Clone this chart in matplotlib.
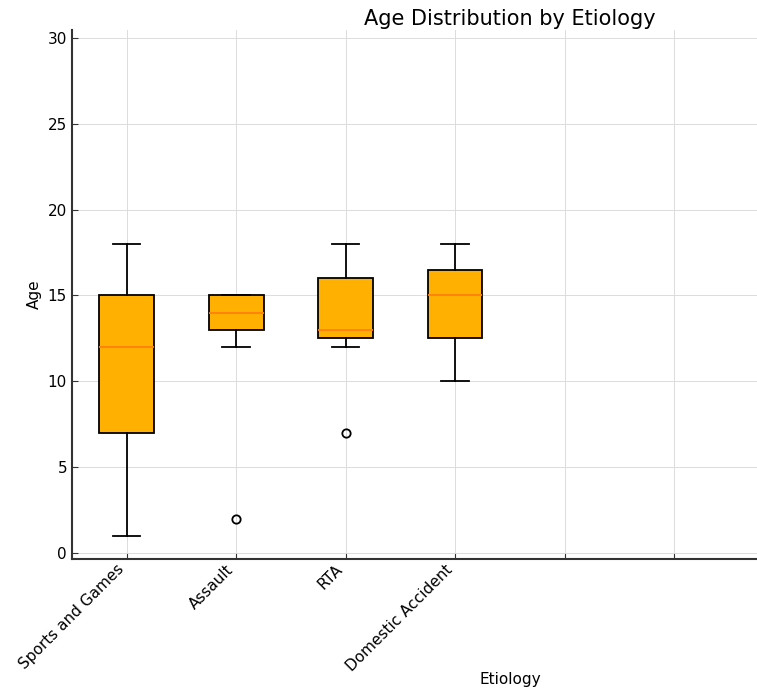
import matplotlib
matplotlib.use('Agg')
import matplotlib.pyplot as plt

categories = ['Sports and Games', 'Assault', 'RTA', 'Domestic Accident']
whislo = [1, 12, 12, 10]
q1     = [7, 13, 12.5, 12.5]
med    = [12, 14, 13, 15]
q3     = [15, 15, 16, 16.5]
whishi = [18, 15, 18, 18]
fliers = [[], [2], [7], []]

# original figure was wider and got cropped on the right
n_slots = 8

stats = [dict(label=c, whislo=lo, q1=a, med=m, q3=b, whishi=hi, fliers=f)
         for c, lo, a, m, b, hi, f in zip(categories, whislo, q1, med, q3, whishi, fliers)]

fig = plt.figure(figsize=(7.57, 6.93), dpi=100)
ax = fig.add_axes([0.095, 0.1934, 1.157, 0.763])

ax.bxp(stats, positions=range(1, len(stats) + 1), widths=0.5, patch_artist=True,
       boxprops=dict(facecolor='#FFB000', edgecolor='black', linewidth=1.3),
       medianprops=dict(color='#FF7F0E', linewidth=1.3),
       whiskerprops=dict(color='black', linewidth=1.3),
       capprops=dict(color='black', linewidth=1.3),
       flierprops=dict(marker='o', markerfacecolor='none', markeredgecolor='black',
                       markersize=6, markeredgewidth=1.3))

ticks = list(range(1, n_slots + 1))
ax.set_xticks(ticks)
ax.set_xticklabels(categories + [''] * (n_slots - len(categories)), rotation=45, ha='right', fontsize=11)
ax.set_xlim(0.5, n_slots + 0.5)
ax.set_ylim(-0.35, 30.45)
ax.set_yticks([0, 5, 10, 15, 20, 25, 30])
ax.tick_params(axis='y', labelsize=11)
ax.tick_params(axis='x', pad=2)
ax.tick_params(direction='in', length=4, color='#333333')

ax.grid(True, color='#dcdcdc', linewidth=0.7)
ax.set_axisbelow(True)
for s in ['top', 'right']:
    ax.spines[s].set_visible(False)
for s in ['left', 'bottom']:
    ax.spines[s].set_linewidth(1.5)
    ax.spines[s].set_color('#333333')

ax.set_title('Age Distribution by Etiology', fontsize=15, pad=4)
ax.set_xlabel('Etiology', fontsize=11)
ax.xaxis.set_label_coords(0.5, -0.214)
ax.set_ylabel('Age', fontsize=11)

fig.savefig('out.png', dpi=100)
